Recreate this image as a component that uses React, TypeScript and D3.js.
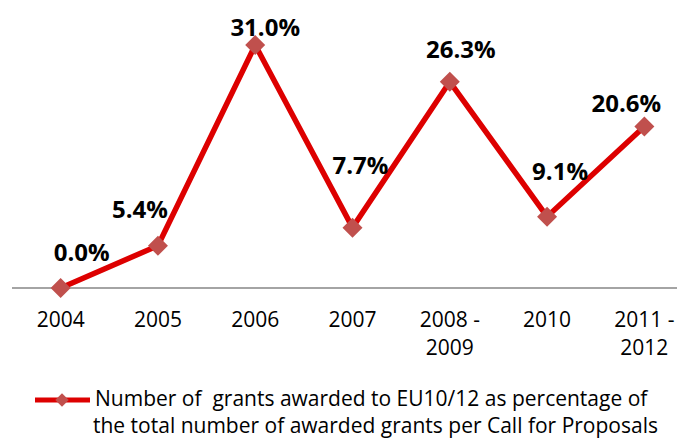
import React from 'react';
import * as d3 from 'd3';

// data
const categories = ['2004', '2005', '2006', '2007', '2008-2009', '2010', '2011-2012'];
const tickLines = [['2004'], ['2005'], ['2006'], ['2007'], ['2008 -', '2009'], ['2010'], ['2011 -', '2012']];
const shares = [0.0, 5.4, 31.0, 7.7, 26.3, 9.1, 20.6];
const valueLabels = ['0.0%', '5.4%', '31.0%', '7.7%', '26.3%', '9.1%', '20.6%'];
// label nudges (px) relative to each point, as placed in the original
const labelDx = [21, -18, 10, 8, 11, 13, -18];
const labelDy = [-27, -28, -9, -54, -24, -37, -15];

const legendLines = [
  'Number of  grants awarded to EU10/12 as percentage of',
  'the total number of awarded grants per Call for Proposals',
];

const W = 677;
const H = 438;
const lineColor = '#dd0000';
const markerColor = '#c0504d';
const font = '"Open Sans", sans-serif';

export default function App() {
  const x = d3.scaleBand().domain(categories).range([12, 693]).padding(0);
  const y = d3.scaleLinear().domain([0, 31]).range([288, 45]);
  const cx = (c: string) => (x(c) as number) + x.bandwidth() / 2;

  const line = d3.line<number>()
    .x((d, i) => cx(categories[i]))
    .y(d => y(d));

  const diamond = d3.symbol().type(d3.symbolSquare).size(200)();
  const smallDiamond = d3.symbol().type(d3.symbolSquare).size(90)();

  return (
    <svg width={W} height={H} style={{ position: 'absolute', left: 0, top: 0 }}>
      <rect width={W} height={H} fill="#fff" />
      {/* title sits above the visible area in the original, only descenders show */}
      <text x={20} y={-5} fontFamily={font} fontWeight="bold" fontSize={22} fill="#000">
        Figure 5, EU10/12 participation in project funding
      </text>

      <line x1={12} x2={W} y1={y(0)} y2={y(0)} stroke="#868686" strokeWidth={1.5} />

      {tickLines.map((lines, i) => (
        <text key={i} x={cx(categories[i])} y={327} textAnchor="middle"
              fontFamily={font} fontSize={21} fill="#000">
          {lines.map((t, j) => (
            <tspan key={j} x={cx(categories[i])} dy={j === 0 ? 0 : 28}>{t}</tspan>
          ))}
        </text>
      ))}

      <path d={line(shares) || ''} fill="none" stroke={lineColor} strokeWidth={5.5}
            strokeLinejoin="miter" />

      {shares.map((d, i) => (
        <path key={i} d={diamond || ''} fill={markerColor}
              transform={`translate(${cx(categories[i])},${y(d)}) rotate(45)`} />
      ))}

      {shares.map((d, i) => (
        <text key={i} x={cx(categories[i]) + labelDx[i]} y={y(d) + labelDy[i]}
              textAnchor="middle" fontFamily={font} fontWeight="bold" fontSize={24} fill="#000">
          {valueLabels[i]}
        </text>
      ))}

      <g>
        <line x1={35} x2={90} y1={400} y2={400} stroke={lineColor} strokeWidth={5} />
        <path d={smallDiamond || ''} fill={markerColor} transform="translate(62,400) rotate(45)" />
        {legendLines.map((t, i) => (
          <text key={i} x={i === 0 ? 95 : 93} y={406 + i * 27} fontFamily={font}
                fontSize={21} fill="#000" style={{ whiteSpace: 'pre' }}>
            {t}
          </text>
        ))}
      </g>
    </svg>
  );
}
